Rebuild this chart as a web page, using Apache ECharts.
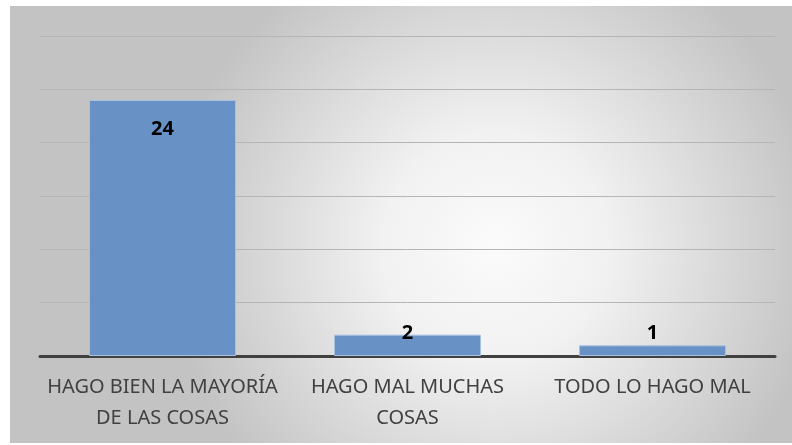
<!DOCTYPE html>
<html><head><meta charset="utf-8">
<script src="https://cdn.jsdelivr.net/npm/echarts@6/dist/echarts.min.js"></script>
<style>html,body{margin:0;padding:0;background:#fff}#c{width:792px;height:445px}</style>
</head><body><div id="c"></div>
<script>
var categories = ['HAGO BIEN LA MAYORÍA\nDE LAS COSAS', 'HAGO MAL MUCHAS\nCOSAS', 'TODO LO HAGO MAL'];
var values = [24, 2, 1];
var yTicks = [0, 5, 10, 15, 20, 25, 30];

var chart = echarts.init(document.getElementById('c'), null, {renderer: 'canvas'});
var labelCfg = [
  {position: 'insideTop', distance: 19},
  {position: 'top', distance: -9},
  {position: 'top', distance: 2}
];
chart.setOption({
  animation: false,
  graphic: [{
    type: 'rect', z: -10, silent: true,
    shape: {x: 10, y: 6, width: 782, height: 437},
    style: {
      fill: new echarts.graphic.RadialGradient(0.62, 0.55, 0.75, [
        {offset: 0, color: '#fbfbfb'},
        {offset: 0.35, color: '#f1f1f1'},
        {offset: 1, color: '#c3c3c3'}
      ])
    }
  }],
  grid: {left: 40, right: 17, top: 36, bottom: 89, containLabel: false},
  xAxis: {
    type: 'category', data: categories,
    axisLine: {lineStyle: {color: '#404040', width: 3}},
    axisTick: {show: false},
    axisLabel: {color: '#404040', fontFamily: 'Noto Sans', fontSize: 20, lineHeight: 31, margin: 16, interval: 0}
  },
  yAxis: {
    type: 'value', min: yTicks[0], max: yTicks[yTicks.length - 1], interval: yTicks[1] - yTicks[0],
    axisLabel: {show: false}, axisLine: {show: false}, axisTick: {show: false},
    splitLine: {lineStyle: {color: '#b5b5b5', width: 1}}
  },
  series: [{
    type: 'bar', barWidth: '60%',
    data: values.map(function (v, i) {
      return {value: v, label: labelCfg[i]};
    }),
    itemStyle: {color: '#6892c6', borderColor: '#a9c1e0', borderWidth: 1},
    label: {show: true, color: '#000', fontWeight: 'bold', fontSize: 20, fontFamily: 'Noto Sans'}
  }]
});
</script></body></html>
